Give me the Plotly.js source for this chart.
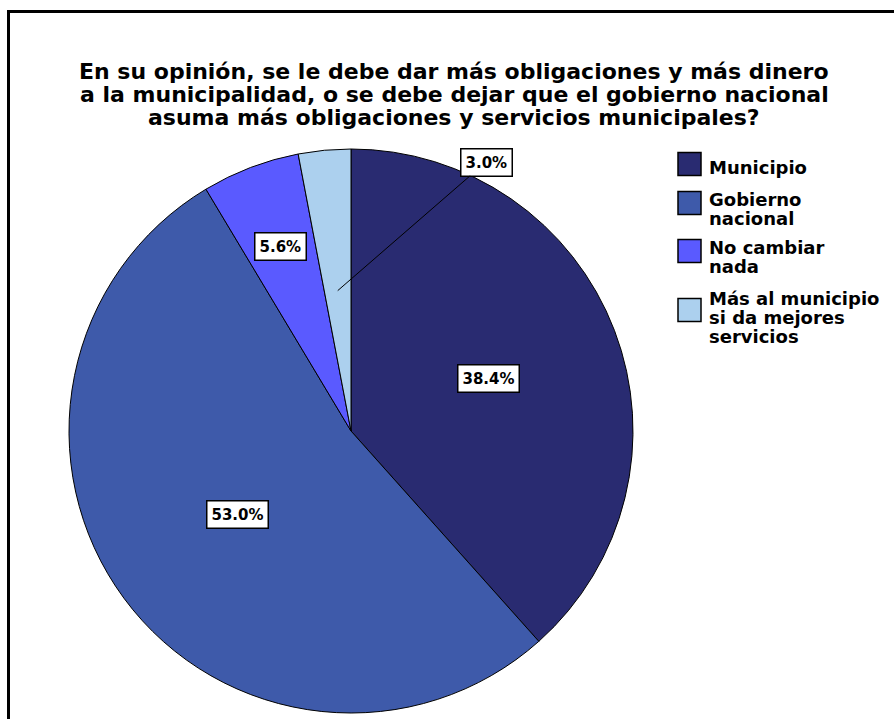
<!DOCTYPE html>
<html><head><meta charset="utf-8">
<script src="https://cdn.plot.ly/plotly-3.0.1.min.js"></script>
<style>html,body{margin:0;padding:0;background:#fff}</style>
</head><body>
<div id="chart" style="width:894px;height:719px"></div>
<script>
const categories = ["Municipio", "Gobierno nacional", "No cambiar nada", "Más al municipio si da mejores servicios"];
const legendLines = [["Municipio"], ["Gobierno", "nacional"], ["No cambiar", "nada"], ["Más al municipio", "si da mejores", "servicios"]];
const values = [38.4, 53.0, 5.6, 3.0];
const colors = ["#292b71", "#3e5aaa", "#5a5aff", "#acd0ee"];
const titleLines = [
  "En su opinión, se le debe dar más obligaciones y más dinero",
  "a la municipalidad, o se debe dejar que el gobierno nacional",
  "asuma más obligaciones y servicios municipales?"
];

const W = 894, H = 719;
const FONT = "DejaVu Sans, Verdana, sans-serif";
const dom = {x: [69/W, 633/W], y: [1 - 713/H, 1 - 149/H]};

const trace = {
  type: "pie", labels: categories, values: values, sort: false,
  direction: "clockwise", rotation: 0, domain: dom,
  marker: {colors: colors, line: {color: "#000", width: 1}},
  textinfo: "none", hoverinfo: "none", showlegend: false
};

const cxp = (dom.x[0] + dom.x[1]) / 2 * W;
const cyp = (1 - (dom.y[0] + dom.y[1]) / 2) * H;
const R = Math.min((dom.x[1]-dom.x[0]) * W, (dom.y[1]-dom.y[0]) * H) / 2;
const total = values.reduce((a, b) => a + b, 0);
const labelRadius = [0.52, 0.5, 0.70, 0.5];

const annotations = [];
let cum = 0;
values.forEach((v, i) => {
  const mid = (cum + v / 2) / total * 2 * Math.PI;
  cum += v;
  const px = cxp + Math.sin(mid) * R * labelRadius[i];
  const py = cyp - Math.cos(mid) * R * labelRadius[i];
  const a = {
    xref: "paper", yref: "paper", x: px / W, y: 1 - py / H,
    xanchor: "center", yanchor: "middle",
    text: "<b>" + v.toFixed(1) + "%</b>",
    font: {family: FONT, size: 15, color: "#000"},
    bgcolor: "#fff", bordercolor: "#000", borderwidth: 1.5, borderpad: 4,
    showarrow: false
  };
  if (i === 3) {
    a.showarrow = true; a.arrowhead = 0; a.arrowwidth = 1; a.arrowcolor = "#000";
    a.ax = 486 - px; a.ay = 162 - py; a.standoff = 0;
  }
  annotations.push(a);
});

// title lines
const titleY = [71, 94, 117];
titleLines.forEach((t, j) => {
  annotations.push({xref: "paper", yref: "paper", x: 454/W, y: 1 - titleY[j]/H,
    xanchor: "center", yanchor: "middle", showarrow: false,
    text: "<b>" + t + "</b>", font: {family: FONT, size: 22, color: "#000"}});
});

// custom legend
const shapes = [];
const legendSq = [164, 203, 251, 310];
const legendText = [[167], [199, 218], [247, 266], [298, 317, 336]];
colors.forEach((c, i) => {
  shapes.push({type: "rect", xref: "paper", yref: "paper",
    x0: 678/W, x1: 701/W, y0: 1 - (legendSq[i] + 11.5)/H, y1: 1 - (legendSq[i] - 11.5)/H,
    fillcolor: c, line: {color: "#000", width: 1.5}});
  legendLines[i].forEach((t, j) => {
    annotations.push({xref: "paper", yref: "paper", x: 707/W, y: 1 - legendText[i][j]/H,
      xanchor: "left", yanchor: "middle", showarrow: false,
      text: "<b>" + t + "</b>", font: {family: FONT, size: 18, color: "#000"}});
  });
});

// frame
shapes.push({type: "rect", xref: "paper", yref: "paper", x0: 8.5/W, x1: 1.05, y0: -0.05, y1: 1 - 11.5/H,
  line: {color: "#000", width: 3}, fillcolor: "rgba(0,0,0,0)"});

const layout = {
  width: W, height: H, margin: {l: 0, r: 0, t: 0, b: 0},
  paper_bgcolor: "#fff", plot_bgcolor: "#fff",
  showlegend: false, annotations: annotations, shapes: shapes
};

Plotly.newPlot("chart", [trace], layout, {displayModeBar: false, staticPlot: true});
</script>
</body></html>
